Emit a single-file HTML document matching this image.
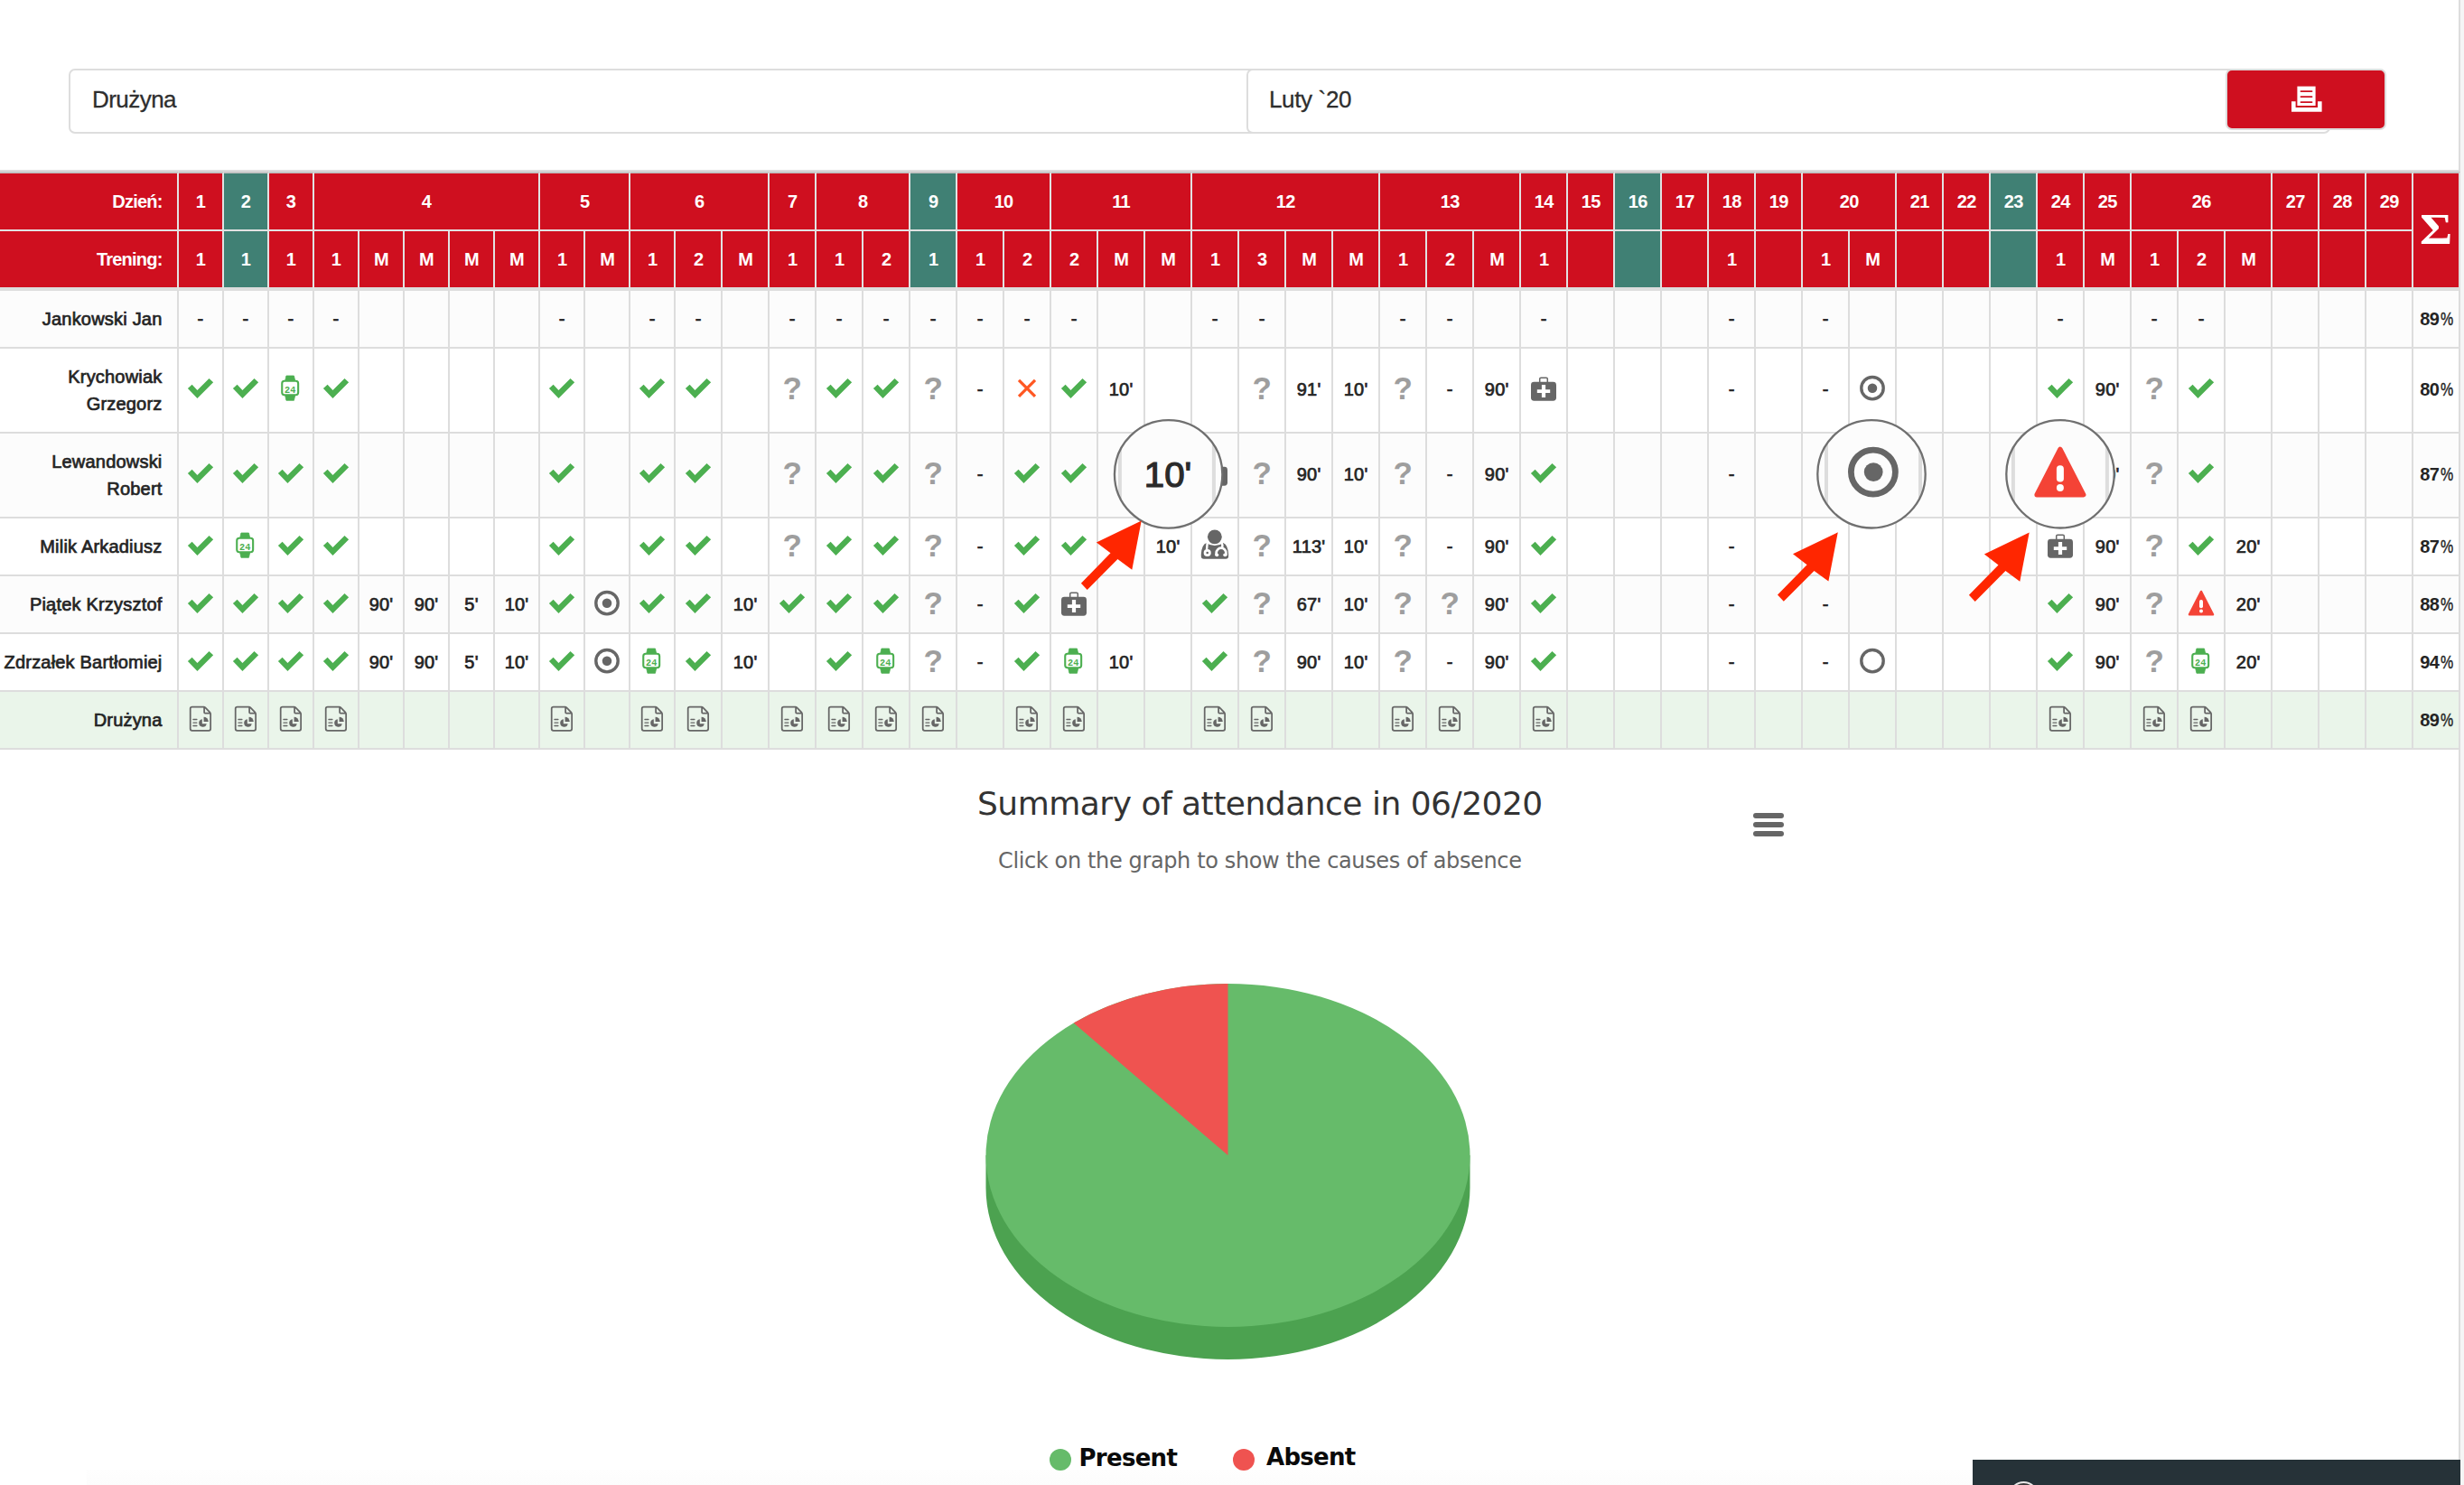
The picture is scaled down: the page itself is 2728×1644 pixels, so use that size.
<!DOCTYPE html>
<html lang="pl"><head><meta charset="utf-8"><title>Obecność – Drużyna – Luty `20</title>
<style>

html,body{margin:0;padding:0;background:#fff;}
body{position:relative;width:2728px;height:1644px;overflow:hidden;font-family:"Liberation Sans",sans-serif;color:#212121;}
.page{position:absolute;left:0;top:0;width:2722px;height:1644px;border-right:2px solid #ddd;background:#fff;}
.gutter{position:absolute;left:2724px;top:0;width:4px;height:1644px;background:#f5f5f5;}
/* filters */
.filters{position:absolute;left:76px;top:76px;height:72px;width:2580px;}
.sel{position:absolute;top:0;height:72px;box-sizing:border-box;border:2px solid #ddd;border-radius:7px;background:#fff;
  font-size:26px;line-height:65px;color:#2e2e2e;letter-spacing:-0.55px;white-space:nowrap;-webkit-text-stroke:0.3px #2e2e2e;}
.sel.team{left:0;width:1320px;padding-left:24px;}
.sel.month{left:1304px;width:1200px;padding-left:23px;letter-spacing:-0.35px;}
.btn{position:absolute;left:2388px;top:0;width:178px;height:68px;box-sizing:border-box;border:2px solid #ddd;border-radius:7px;background:#cf0f1f;}
.btn svg{position:absolute;left:71px;top:17px;}
/* table */
table.att{position:absolute;left:0;top:188px;width:2724px;table-layout:fixed;border-collapse:separate;border-spacing:0;
  border-top:2px solid #dcdcdc;font-size:20px;font-weight:normal;line-height:30px;letter-spacing:0.2px;}
.att th,.att td{box-sizing:border-box;padding:0;margin:0;text-align:center;vertical-align:middle;border-right:2px solid #ddd;border-bottom:2px solid #ddd;overflow:hidden;white-space:nowrap;}
.att thead th{background:#cf0f1f;color:#fff;border-color:#e2e2e2;height:64px;font-weight:bold;letter-spacing:-0.8px;}
.att thead tr.r1 th{border-top:2px solid #c4c4c4;height:66px;}
.att thead tr.r2 th{height:66px;border-bottom:4px solid #ddd;}
.att thead th.t{background:#408074;}
.att thead th.lab,.att tbody th{text-align:right;padding-right:16.5px;}
.att thead th.sum{font-family:"Liberation Serif",serif;font-size:49px;font-weight:bold;letter-spacing:0;border-bottom:4px solid #ddd;border-right-color:#ddd;padding-bottom:3px}
.att thead th.sum span{display:inline-block;transform:scaleX(1.13);}
.att tbody td,.att tbody th{height:64px;background:#fff;font-weight:normal;color:#242424;-webkit-text-stroke:0.7px #242424;}
.att tbody tr.tall td,.att tbody tr.tall th{height:94px;}
.att tbody tr.tall td{padding-bottom:2px;}
.att tbody tr.odd td,.att tbody tr.odd th{background:#fcfcfc;}
.att tbody tr.team td,.att tbody tr.team th{background:#eaf5ea;}
.att tbody td.pc{letter-spacing:-0.6px;font-weight:bold;-webkit-text-stroke:0;}
.att td.pc i{font-style:normal;font-weight:normal;display:inline-block;transform:scaleX(0.8);transform-origin:0 50%;margin:0 -3.6px 0 1.2px;-webkit-text-stroke:0.4px #212121;}
.att .ic{display:block;margin:0 auto;}
.att .q{display:block;font-size:35px;line-height:40px;font-weight:bold;color:#9e9e9e;letter-spacing:0;position:relative;top:-1.3px;-webkit-text-stroke:0;}
/* chart */
.chart{position:absolute;left:0;top:830px;width:2722px;height:814px;font-family:"DejaVu Sans","Liberation Sans",sans-serif;}
.chart h2{position:absolute;left:0;width:2722px;top:866px;margin:0;}
.ttl{position:absolute;left:1082px;top:39px;margin:0;font-size:36px;font-weight:normal;line-height:42px;color:#333;letter-spacing:-0.5px;white-space:nowrap;}
.sub{position:absolute;left:1105px;top:109px;margin:0;font-size:24px;line-height:28px;color:#666;letter-spacing:-0.37px;white-space:nowrap;}
.menu{position:absolute;left:1936px;top:66px;}
.pie{position:absolute;left:1060px;top:240px;}
.leg{position:absolute;top:768px;font-size:26px;line-height:32px;font-weight:bold;color:#0a0a0a;letter-spacing:-0.7px;white-space:nowrap;}
.leg b{position:absolute;left:-34px;top:6px;width:24px;height:24px;border-radius:50%;}
.toast{position:absolute;left:2184px;top:1616px;width:540px;height:28px;background:#263238;overflow:hidden;}
.toast b{position:absolute;left:40px;top:24px;width:29px;height:29px;border-radius:50%;border:2px solid #e8e8e8;background:#3a3a3a;}
.overlay{position:absolute;left:0;top:0;pointer-events:none;}
.foot{position:absolute;left:96px;top:1627px;width:2088px;height:17px;background:linear-gradient(#fefefe,#fcfcfc);}

</style></head><body>
<div class="page">
<div class="filters">
<div class="sel team">Drużyna</div>
<div class="sel month">Luty `20</div>
<div class="btn"><svg width="34" height="30" viewBox="0 0 34 30"><path d="M6.4,0.6 H26.6 V22 H6.4 Z" fill="#fff"/><path d="M10.5,6.1 H22.5 M10.5,12.1 H22.5 M10.5,18.1 H22.5" stroke="#cf0f1f" stroke-width="1.9" stroke-linecap="round"/><path d="M2.3,17.2 V26.4 H31.3 V17.2" fill="none" stroke="#fff" stroke-width="4.6"/></svg></div>
</div>
<table class="att">
<colgroup><col style="width:198px"><col style="width:50px"><col style="width:50px"><col style="width:50px"><col style="width:50px"><col style="width:50px"><col style="width:50px"><col style="width:50px"><col style="width:50px"><col style="width:50px"><col style="width:50px"><col style="width:50px"><col style="width:52px"><col style="width:52px"><col style="width:52px"><col style="width:52px"><col style="width:52px"><col style="width:52px"><col style="width:52px"><col style="width:52px"><col style="width:52px"><col style="width:52px"><col style="width:52px"><col style="width:52px"><col style="width:52px"><col style="width:52px"><col style="width:52px"><col style="width:52px"><col style="width:52px"><col style="width:52px"><col style="width:52px"><col style="width:52px"><col style="width:52px"><col style="width:52px"><col style="width:52px"><col style="width:52px"><col style="width:52px"><col style="width:52px"><col style="width:52px"><col style="width:52px"><col style="width:52px"><col style="width:52px"><col style="width:52px"><col style="width:52px"><col style="width:52px"><col style="width:52px"><col style="width:52px"><col style="width:52px"><col style="width:52px"><col style="width:52px"></colgroup>
<thead>
<tr class="r1"><th class="lab">Dzień:</th>
<th>1</th>
<th class="t">2</th>
<th>3</th>
<th colspan="5">4</th>
<th colspan="2">5</th>
<th colspan="3">6</th>
<th>7</th>
<th colspan="2">8</th>
<th class="t">9</th>
<th colspan="2">10</th>
<th colspan="3">11</th>
<th colspan="4">12</th>
<th colspan="3">13</th>
<th>14</th>
<th>15</th>
<th class="t">16</th>
<th>17</th>
<th>18</th>
<th>19</th>
<th colspan="2">20</th>
<th>21</th>
<th>22</th>
<th class="t">23</th>
<th>24</th>
<th>25</th>
<th colspan="3">26</th>
<th>27</th>
<th>28</th>
<th>29</th>
<th class="sum" rowspan="2"><span>Σ</span></th></tr>
<tr class="r2"><th class="lab">Trening:</th>
<th>1</th>
<th class="t">1</th>
<th>1</th>
<th>1</th>
<th>M</th>
<th>M</th>
<th>M</th>
<th>M</th>
<th>1</th>
<th>M</th>
<th>1</th>
<th>2</th>
<th>M</th>
<th>1</th>
<th>1</th>
<th>2</th>
<th class="t">1</th>
<th>1</th>
<th>2</th>
<th>2</th>
<th>M</th>
<th>M</th>
<th>1</th>
<th>3</th>
<th>M</th>
<th>M</th>
<th>1</th>
<th>2</th>
<th>M</th>
<th>1</th>
<th></th>
<th class="t"></th>
<th></th>
<th>1</th>
<th></th>
<th>1</th>
<th>M</th>
<th></th>
<th></th>
<th class="t"></th>
<th>1</th>
<th>M</th>
<th>1</th>
<th>2</th>
<th>M</th>
<th></th>
<th></th>
<th></th>
</tr></thead><tbody>
<tr class="odd"><th>Jankowski Jan</th>
<td>-</td>
<td>-</td>
<td>-</td>
<td>-</td>
<td></td>
<td></td>
<td></td>
<td></td>
<td>-</td>
<td></td>
<td>-</td>
<td>-</td>
<td></td>
<td>-</td>
<td>-</td>
<td>-</td>
<td>-</td>
<td>-</td>
<td>-</td>
<td>-</td>
<td></td>
<td></td>
<td>-</td>
<td>-</td>
<td></td>
<td></td>
<td>-</td>
<td>-</td>
<td></td>
<td>-</td>
<td></td>
<td></td>
<td></td>
<td>-</td>
<td></td>
<td>-</td>
<td></td>
<td></td>
<td></td>
<td></td>
<td>-</td>
<td></td>
<td>-</td>
<td>-</td>
<td></td>
<td></td>
<td></td>
<td></td>
<td class="pc">89<i>%</i></td></tr>
<tr class="tall"><th>Krychowiak<br>Grzegorz</th>
<td><svg class="ic" width="40" height="40" viewBox="-20.0 -20.0 40 40"><polygon fill="#4caf50" points="-14.1,-0.9 -9.4,-5.2 -3.55,0.9 9.5,-12.1 14.15,-7.8 -3.55,9.9"/></svg></td>
<td><svg class="ic" width="40" height="40" viewBox="-20.0 -20.0 40 40"><polygon fill="#4caf50" points="-14.1,-0.9 -9.4,-5.2 -3.55,0.9 9.5,-12.1 14.15,-7.8 -3.55,9.9"/></svg></td>
<td><svg class="ic" width="40" height="40" viewBox="-20.0 -20.0 40 40"><g transform="translate(0,0.9)"><path d="M-5.05,-15.9 H3.45 L4.7,-10.4 H-6.3 Z M-6.3,5.9 H4.7 L3.45,11.4 H-5.05 Z" fill="#4caf50" stroke="#4caf50" stroke-width="0.8" stroke-linejoin="round"/><rect x="-9.75" y="-10.1" width="17.9" height="15.4" rx="2.6" fill="#fff" stroke="#4caf50" stroke-width="2.1"/><text x="-0.8" y="2.9" text-anchor="middle" font-family="Liberation Mono, monospace" font-weight="bold" font-size="11.5" textLength="12.6" lengthAdjust="spacingAndGlyphs" fill="#4caf50">24</text></g></svg></td>
<td><svg class="ic" width="40" height="40" viewBox="-20.0 -20.0 40 40"><polygon fill="#4caf50" points="-14.1,-0.9 -9.4,-5.2 -3.55,0.9 9.5,-12.1 14.15,-7.8 -3.55,9.9"/></svg></td>
<td></td>
<td></td>
<td></td>
<td></td>
<td><svg class="ic" width="40" height="40" viewBox="-20.0 -20.0 40 40"><polygon fill="#4caf50" points="-14.1,-0.9 -9.4,-5.2 -3.55,0.9 9.5,-12.1 14.15,-7.8 -3.55,9.9"/></svg></td>
<td></td>
<td><svg class="ic" width="40" height="40" viewBox="-20.0 -20.0 40 40"><polygon fill="#4caf50" points="-14.1,-0.9 -9.4,-5.2 -3.55,0.9 9.5,-12.1 14.15,-7.8 -3.55,9.9"/></svg></td>
<td><svg class="ic" width="40" height="40" viewBox="-20.0 -20.0 40 40"><polygon fill="#4caf50" points="-14.1,-0.9 -9.4,-5.2 -3.55,0.9 9.5,-12.1 14.15,-7.8 -3.55,9.9"/></svg></td>
<td></td>
<td><span class="q">?</span></td>
<td><svg class="ic" width="40" height="40" viewBox="-20.0 -20.0 40 40"><polygon fill="#4caf50" points="-14.1,-0.9 -9.4,-5.2 -3.55,0.9 9.5,-12.1 14.15,-7.8 -3.55,9.9"/></svg></td>
<td><svg class="ic" width="40" height="40" viewBox="-20.0 -20.0 40 40"><polygon fill="#4caf50" points="-14.1,-0.9 -9.4,-5.2 -3.55,0.9 9.5,-12.1 14.15,-7.8 -3.55,9.9"/></svg></td>
<td><span class="q">?</span></td>
<td>-</td>
<td><svg class="ic" width="40" height="40" viewBox="-20.0 -20.0 40 40"><path d="M-9,-10.2 L9,7.8 M9,-10.2 L-9,7.8" stroke="#ff5722" stroke-width="3.2" fill="none"/></svg></td>
<td><svg class="ic" width="40" height="40" viewBox="-20.0 -20.0 40 40"><polygon fill="#4caf50" points="-14.1,-0.9 -9.4,-5.2 -3.55,0.9 9.5,-12.1 14.15,-7.8 -3.55,9.9"/></svg></td>
<td>10'</td>
<td></td>
<td></td>
<td><span class="q">?</span></td>
<td>91'</td>
<td>10'</td>
<td><span class="q">?</span></td>
<td>-</td>
<td>90'</td>
<td><svg class="ic" width="40" height="40" viewBox="-20.0 -20.0 40 40"><g transform="translate(0,0.9)"><rect x="-14" y="-9.1" width="28" height="20.9" rx="3.4" fill="#666"/><path d="M-4.3,-9 V-12.4 Q-4.3,-13.7 -3,-13.7 H3 Q4.3,-13.7 4.3,-12.4 V-9" fill="none" stroke="#666" stroke-width="1.5"/><path d="M-2.1,-6 H2.1 V-0.75 H7.2 V3 H2.1 V8.2 H-2.1 V3 H-7.2 V-0.75 H-2.1 Z" fill="#fff"/></g></svg></td>
<td></td>
<td></td>
<td></td>
<td>-</td>
<td></td>
<td>-</td>
<td><svg class="ic" width="40" height="40" viewBox="-20.0 -20.0 40 40"><circle cx="0" cy="-1.3" r="12.2" fill="none" stroke="#666" stroke-width="3.4"/><circle cx="0" cy="-1.3" r="5.25" fill="#666"/></svg></td>
<td></td>
<td></td>
<td></td>
<td><svg class="ic" width="40" height="40" viewBox="-20.0 -20.0 40 40"><polygon fill="#4caf50" points="-14.1,-0.9 -9.4,-5.2 -3.55,0.9 9.5,-12.1 14.15,-7.8 -3.55,9.9"/></svg></td>
<td>90'</td>
<td><span class="q">?</span></td>
<td><svg class="ic" width="40" height="40" viewBox="-20.0 -20.0 40 40"><polygon fill="#4caf50" points="-14.1,-0.9 -9.4,-5.2 -3.55,0.9 9.5,-12.1 14.15,-7.8 -3.55,9.9"/></svg></td>
<td></td>
<td></td>
<td></td>
<td></td>
<td class="pc">80<i>%</i></td></tr>
<tr class="tall odd"><th>Lewandowski<br>Robert</th>
<td><svg class="ic" width="40" height="40" viewBox="-20.0 -20.0 40 40"><polygon fill="#4caf50" points="-14.1,-0.9 -9.4,-5.2 -3.55,0.9 9.5,-12.1 14.15,-7.8 -3.55,9.9"/></svg></td>
<td><svg class="ic" width="40" height="40" viewBox="-20.0 -20.0 40 40"><polygon fill="#4caf50" points="-14.1,-0.9 -9.4,-5.2 -3.55,0.9 9.5,-12.1 14.15,-7.8 -3.55,9.9"/></svg></td>
<td><svg class="ic" width="40" height="40" viewBox="-20.0 -20.0 40 40"><polygon fill="#4caf50" points="-14.1,-0.9 -9.4,-5.2 -3.55,0.9 9.5,-12.1 14.15,-7.8 -3.55,9.9"/></svg></td>
<td><svg class="ic" width="40" height="40" viewBox="-20.0 -20.0 40 40"><polygon fill="#4caf50" points="-14.1,-0.9 -9.4,-5.2 -3.55,0.9 9.5,-12.1 14.15,-7.8 -3.55,9.9"/></svg></td>
<td></td>
<td></td>
<td></td>
<td></td>
<td><svg class="ic" width="40" height="40" viewBox="-20.0 -20.0 40 40"><polygon fill="#4caf50" points="-14.1,-0.9 -9.4,-5.2 -3.55,0.9 9.5,-12.1 14.15,-7.8 -3.55,9.9"/></svg></td>
<td></td>
<td><svg class="ic" width="40" height="40" viewBox="-20.0 -20.0 40 40"><polygon fill="#4caf50" points="-14.1,-0.9 -9.4,-5.2 -3.55,0.9 9.5,-12.1 14.15,-7.8 -3.55,9.9"/></svg></td>
<td><svg class="ic" width="40" height="40" viewBox="-20.0 -20.0 40 40"><polygon fill="#4caf50" points="-14.1,-0.9 -9.4,-5.2 -3.55,0.9 9.5,-12.1 14.15,-7.8 -3.55,9.9"/></svg></td>
<td></td>
<td><span class="q">?</span></td>
<td><svg class="ic" width="40" height="40" viewBox="-20.0 -20.0 40 40"><polygon fill="#4caf50" points="-14.1,-0.9 -9.4,-5.2 -3.55,0.9 9.5,-12.1 14.15,-7.8 -3.55,9.9"/></svg></td>
<td><svg class="ic" width="40" height="40" viewBox="-20.0 -20.0 40 40"><polygon fill="#4caf50" points="-14.1,-0.9 -9.4,-5.2 -3.55,0.9 9.5,-12.1 14.15,-7.8 -3.55,9.9"/></svg></td>
<td><span class="q">?</span></td>
<td>-</td>
<td><svg class="ic" width="40" height="40" viewBox="-20.0 -20.0 40 40"><polygon fill="#4caf50" points="-14.1,-0.9 -9.4,-5.2 -3.55,0.9 9.5,-12.1 14.15,-7.8 -3.55,9.9"/></svg></td>
<td><svg class="ic" width="40" height="40" viewBox="-20.0 -20.0 40 40"><polygon fill="#4caf50" points="-14.1,-0.9 -9.4,-5.2 -3.55,0.9 9.5,-12.1 14.15,-7.8 -3.55,9.9"/></svg></td>
<td></td>
<td>10'</td>
<td><svg class="ic" width="40" height="40" viewBox="-20.0 -20.0 40 40"><g transform="translate(0,0.9)"><rect x="-14" y="-9.1" width="28" height="20.9" rx="3.4" fill="#666"/><path d="M-4.3,-9 V-12.4 Q-4.3,-13.7 -3,-13.7 H3 Q4.3,-13.7 4.3,-12.4 V-9" fill="none" stroke="#666" stroke-width="1.5"/><path d="M-2.1,-6 H2.1 V-0.75 H7.2 V3 H2.1 V8.2 H-2.1 V3 H-7.2 V-0.75 H-2.1 Z" fill="#fff"/></g></svg></td>
<td><span class="q">?</span></td>
<td>90'</td>
<td>10'</td>
<td><span class="q">?</span></td>
<td>-</td>
<td>90'</td>
<td><svg class="ic" width="40" height="40" viewBox="-20.0 -20.0 40 40"><polygon fill="#4caf50" points="-14.1,-0.9 -9.4,-5.2 -3.55,0.9 9.5,-12.1 14.15,-7.8 -3.55,9.9"/></svg></td>
<td></td>
<td></td>
<td></td>
<td>-</td>
<td></td>
<td>-</td>
<td><svg class="ic" width="40" height="40" viewBox="-20.0 -20.0 40 40"><circle cx="0" cy="-1.3" r="12.2" fill="none" stroke="#666" stroke-width="3.4"/><circle cx="0" cy="-1.3" r="5.25" fill="#666"/></svg></td>
<td></td>
<td></td>
<td></td>
<td><svg class="ic" width="40" height="40" viewBox="-20.0 -20.0 40 40"><path d="M0,-14 L12.95,11.3 L-12.95,11.3 Z" fill="#f44336" stroke="#f44336" stroke-width="2.6" stroke-linejoin="round"/><rect x="-2" y="-5" width="4" height="9.2" rx="1.9" fill="#fff"/><circle cx="0" cy="7.4" r="2" fill="#fff"/></svg></td>
<td>90'</td>
<td><span class="q">?</span></td>
<td><svg class="ic" width="40" height="40" viewBox="-20.0 -20.0 40 40"><polygon fill="#4caf50" points="-14.1,-0.9 -9.4,-5.2 -3.55,0.9 9.5,-12.1 14.15,-7.8 -3.55,9.9"/></svg></td>
<td></td>
<td></td>
<td></td>
<td></td>
<td class="pc">87<i>%</i></td></tr>
<tr class=""><th>Milik Arkadiusz</th>
<td><svg class="ic" width="40" height="40" viewBox="-20.0 -20.0 40 40"><polygon fill="#4caf50" points="-14.1,-0.9 -9.4,-5.2 -3.55,0.9 9.5,-12.1 14.15,-7.8 -3.55,9.9"/></svg></td>
<td><svg class="ic" width="40" height="40" viewBox="-20.0 -20.0 40 40"><g transform="translate(0,0.9)"><path d="M-5.05,-15.9 H3.45 L4.7,-10.4 H-6.3 Z M-6.3,5.9 H4.7 L3.45,11.4 H-5.05 Z" fill="#4caf50" stroke="#4caf50" stroke-width="0.8" stroke-linejoin="round"/><rect x="-9.75" y="-10.1" width="17.9" height="15.4" rx="2.6" fill="#fff" stroke="#4caf50" stroke-width="2.1"/><text x="-0.8" y="2.9" text-anchor="middle" font-family="Liberation Mono, monospace" font-weight="bold" font-size="11.5" textLength="12.6" lengthAdjust="spacingAndGlyphs" fill="#4caf50">24</text></g></svg></td>
<td><svg class="ic" width="40" height="40" viewBox="-20.0 -20.0 40 40"><polygon fill="#4caf50" points="-14.1,-0.9 -9.4,-5.2 -3.55,0.9 9.5,-12.1 14.15,-7.8 -3.55,9.9"/></svg></td>
<td><svg class="ic" width="40" height="40" viewBox="-20.0 -20.0 40 40"><polygon fill="#4caf50" points="-14.1,-0.9 -9.4,-5.2 -3.55,0.9 9.5,-12.1 14.15,-7.8 -3.55,9.9"/></svg></td>
<td></td>
<td></td>
<td></td>
<td></td>
<td><svg class="ic" width="40" height="40" viewBox="-20.0 -20.0 40 40"><polygon fill="#4caf50" points="-14.1,-0.9 -9.4,-5.2 -3.55,0.9 9.5,-12.1 14.15,-7.8 -3.55,9.9"/></svg></td>
<td></td>
<td><svg class="ic" width="40" height="40" viewBox="-20.0 -20.0 40 40"><polygon fill="#4caf50" points="-14.1,-0.9 -9.4,-5.2 -3.55,0.9 9.5,-12.1 14.15,-7.8 -3.55,9.9"/></svg></td>
<td><svg class="ic" width="40" height="40" viewBox="-20.0 -20.0 40 40"><polygon fill="#4caf50" points="-14.1,-0.9 -9.4,-5.2 -3.55,0.9 9.5,-12.1 14.15,-7.8 -3.55,9.9"/></svg></td>
<td></td>
<td><span class="q">?</span></td>
<td><svg class="ic" width="40" height="40" viewBox="-20.0 -20.0 40 40"><polygon fill="#4caf50" points="-14.1,-0.9 -9.4,-5.2 -3.55,0.9 9.5,-12.1 14.15,-7.8 -3.55,9.9"/></svg></td>
<td><svg class="ic" width="40" height="40" viewBox="-20.0 -20.0 40 40"><polygon fill="#4caf50" points="-14.1,-0.9 -9.4,-5.2 -3.55,0.9 9.5,-12.1 14.15,-7.8 -3.55,9.9"/></svg></td>
<td><span class="q">?</span></td>
<td>-</td>
<td><svg class="ic" width="40" height="40" viewBox="-20.0 -20.0 40 40"><polygon fill="#4caf50" points="-14.1,-0.9 -9.4,-5.2 -3.55,0.9 9.5,-12.1 14.15,-7.8 -3.55,9.9"/></svg></td>
<td><svg class="ic" width="40" height="40" viewBox="-20.0 -20.0 40 40"><polygon fill="#4caf50" points="-14.1,-0.9 -9.4,-5.2 -3.55,0.9 9.5,-12.1 14.15,-7.8 -3.55,9.9"/></svg></td>
<td></td>
<td>10'</td>
<td><svg class="ic" width="40" height="40" viewBox="-20.0 -20.0 40 40"><circle cx="-0.15" cy="-10.7" r="7.9" fill="#666"/><path d="M-9.3,-4.1 Q-14.6,-2 -15.2,8.5 V10.8 Q-15.2,13.8 -12.2,13.8 H12.1 Q15.1,13.8 15.1,10.8 V8.5 Q14.5,-2 9.2,-4.1 A15,15 0 0 1 -9.3,-4.1 Z" fill="#666"/><path d="M-8.3,-4.4 L-9,3.6" stroke="#fff" stroke-width="2.4" fill="none"/><circle cx="-8.3" cy="7" r="4.05" fill="#fff"/><circle cx="-8.3" cy="7" r="1.3" fill="#666"/><path d="M7.7,-4.2 L8.4,-1.4 Q8.7,0.2 7.2,0.6" stroke="#fff" stroke-width="2.4" fill="none"/><path d="M1.6,9.2 V7.3 A5.4,5.6 0 0 1 12.4,7.3 V9.2" stroke="#fff" stroke-width="2.7" fill="none" stroke-linecap="round"/><circle cx="2.3" cy="9.3" r="1.9" fill="#fff"/><circle cx="11.2" cy="9.3" r="1.9" fill="#fff"/></svg></td>
<td><span class="q">?</span></td>
<td>113'</td>
<td>10'</td>
<td><span class="q">?</span></td>
<td>-</td>
<td>90'</td>
<td><svg class="ic" width="40" height="40" viewBox="-20.0 -20.0 40 40"><polygon fill="#4caf50" points="-14.1,-0.9 -9.4,-5.2 -3.55,0.9 9.5,-12.1 14.15,-7.8 -3.55,9.9"/></svg></td>
<td></td>
<td></td>
<td></td>
<td>-</td>
<td></td>
<td></td>
<td></td>
<td></td>
<td></td>
<td></td>
<td><svg class="ic" width="40" height="40" viewBox="-20.0 -20.0 40 40"><g transform="translate(0,0.9)"><rect x="-14" y="-9.1" width="28" height="20.9" rx="3.4" fill="#666"/><path d="M-4.3,-9 V-12.4 Q-4.3,-13.7 -3,-13.7 H3 Q4.3,-13.7 4.3,-12.4 V-9" fill="none" stroke="#666" stroke-width="1.5"/><path d="M-2.1,-6 H2.1 V-0.75 H7.2 V3 H2.1 V8.2 H-2.1 V3 H-7.2 V-0.75 H-2.1 Z" fill="#fff"/></g></svg></td>
<td>90'</td>
<td><span class="q">?</span></td>
<td><svg class="ic" width="40" height="40" viewBox="-20.0 -20.0 40 40"><polygon fill="#4caf50" points="-14.1,-0.9 -9.4,-5.2 -3.55,0.9 9.5,-12.1 14.15,-7.8 -3.55,9.9"/></svg></td>
<td>20'</td>
<td></td>
<td></td>
<td></td>
<td class="pc">87<i>%</i></td></tr>
<tr class="odd"><th>Piątek Krzysztof</th>
<td><svg class="ic" width="40" height="40" viewBox="-20.0 -20.0 40 40"><polygon fill="#4caf50" points="-14.1,-0.9 -9.4,-5.2 -3.55,0.9 9.5,-12.1 14.15,-7.8 -3.55,9.9"/></svg></td>
<td><svg class="ic" width="40" height="40" viewBox="-20.0 -20.0 40 40"><polygon fill="#4caf50" points="-14.1,-0.9 -9.4,-5.2 -3.55,0.9 9.5,-12.1 14.15,-7.8 -3.55,9.9"/></svg></td>
<td><svg class="ic" width="40" height="40" viewBox="-20.0 -20.0 40 40"><polygon fill="#4caf50" points="-14.1,-0.9 -9.4,-5.2 -3.55,0.9 9.5,-12.1 14.15,-7.8 -3.55,9.9"/></svg></td>
<td><svg class="ic" width="40" height="40" viewBox="-20.0 -20.0 40 40"><polygon fill="#4caf50" points="-14.1,-0.9 -9.4,-5.2 -3.55,0.9 9.5,-12.1 14.15,-7.8 -3.55,9.9"/></svg></td>
<td>90'</td>
<td>90'</td>
<td>5'</td>
<td>10'</td>
<td><svg class="ic" width="40" height="40" viewBox="-20.0 -20.0 40 40"><polygon fill="#4caf50" points="-14.1,-0.9 -9.4,-5.2 -3.55,0.9 9.5,-12.1 14.15,-7.8 -3.55,9.9"/></svg></td>
<td><svg class="ic" width="40" height="40" viewBox="-20.0 -20.0 40 40"><circle cx="0" cy="-1.3" r="12.2" fill="none" stroke="#666" stroke-width="3.4"/><circle cx="0" cy="-1.3" r="5.25" fill="#666"/></svg></td>
<td><svg class="ic" width="40" height="40" viewBox="-20.0 -20.0 40 40"><polygon fill="#4caf50" points="-14.1,-0.9 -9.4,-5.2 -3.55,0.9 9.5,-12.1 14.15,-7.8 -3.55,9.9"/></svg></td>
<td><svg class="ic" width="40" height="40" viewBox="-20.0 -20.0 40 40"><polygon fill="#4caf50" points="-14.1,-0.9 -9.4,-5.2 -3.55,0.9 9.5,-12.1 14.15,-7.8 -3.55,9.9"/></svg></td>
<td>10'</td>
<td><svg class="ic" width="40" height="40" viewBox="-20.0 -20.0 40 40"><polygon fill="#4caf50" points="-14.1,-0.9 -9.4,-5.2 -3.55,0.9 9.5,-12.1 14.15,-7.8 -3.55,9.9"/></svg></td>
<td><svg class="ic" width="40" height="40" viewBox="-20.0 -20.0 40 40"><polygon fill="#4caf50" points="-14.1,-0.9 -9.4,-5.2 -3.55,0.9 9.5,-12.1 14.15,-7.8 -3.55,9.9"/></svg></td>
<td><svg class="ic" width="40" height="40" viewBox="-20.0 -20.0 40 40"><polygon fill="#4caf50" points="-14.1,-0.9 -9.4,-5.2 -3.55,0.9 9.5,-12.1 14.15,-7.8 -3.55,9.9"/></svg></td>
<td><span class="q">?</span></td>
<td>-</td>
<td><svg class="ic" width="40" height="40" viewBox="-20.0 -20.0 40 40"><polygon fill="#4caf50" points="-14.1,-0.9 -9.4,-5.2 -3.55,0.9 9.5,-12.1 14.15,-7.8 -3.55,9.9"/></svg></td>
<td><svg class="ic" width="40" height="40" viewBox="-20.0 -20.0 40 40"><g transform="translate(0,0.9)"><rect x="-14" y="-9.1" width="28" height="20.9" rx="3.4" fill="#666"/><path d="M-4.3,-9 V-12.4 Q-4.3,-13.7 -3,-13.7 H3 Q4.3,-13.7 4.3,-12.4 V-9" fill="none" stroke="#666" stroke-width="1.5"/><path d="M-2.1,-6 H2.1 V-0.75 H7.2 V3 H2.1 V8.2 H-2.1 V3 H-7.2 V-0.75 H-2.1 Z" fill="#fff"/></g></svg></td>
<td></td>
<td></td>
<td><svg class="ic" width="40" height="40" viewBox="-20.0 -20.0 40 40"><polygon fill="#4caf50" points="-14.1,-0.9 -9.4,-5.2 -3.55,0.9 9.5,-12.1 14.15,-7.8 -3.55,9.9"/></svg></td>
<td><span class="q">?</span></td>
<td>67'</td>
<td>10'</td>
<td><span class="q">?</span></td>
<td><span class="q">?</span></td>
<td>90'</td>
<td><svg class="ic" width="40" height="40" viewBox="-20.0 -20.0 40 40"><polygon fill="#4caf50" points="-14.1,-0.9 -9.4,-5.2 -3.55,0.9 9.5,-12.1 14.15,-7.8 -3.55,9.9"/></svg></td>
<td></td>
<td></td>
<td></td>
<td>-</td>
<td></td>
<td>-</td>
<td></td>
<td></td>
<td></td>
<td></td>
<td><svg class="ic" width="40" height="40" viewBox="-20.0 -20.0 40 40"><polygon fill="#4caf50" points="-14.1,-0.9 -9.4,-5.2 -3.55,0.9 9.5,-12.1 14.15,-7.8 -3.55,9.9"/></svg></td>
<td>90'</td>
<td><span class="q">?</span></td>
<td><svg class="ic" width="40" height="40" viewBox="-20.0 -20.0 40 40"><path d="M0,-14 L12.95,11.3 L-12.95,11.3 Z" fill="#f44336" stroke="#f44336" stroke-width="2.6" stroke-linejoin="round"/><rect x="-2" y="-5" width="4" height="9.2" rx="1.9" fill="#fff"/><circle cx="0" cy="7.4" r="2" fill="#fff"/></svg></td>
<td>20'</td>
<td></td>
<td></td>
<td></td>
<td class="pc">88<i>%</i></td></tr>
<tr class=""><th>Zdrzałek Bartłomiej</th>
<td><svg class="ic" width="40" height="40" viewBox="-20.0 -20.0 40 40"><polygon fill="#4caf50" points="-14.1,-0.9 -9.4,-5.2 -3.55,0.9 9.5,-12.1 14.15,-7.8 -3.55,9.9"/></svg></td>
<td><svg class="ic" width="40" height="40" viewBox="-20.0 -20.0 40 40"><polygon fill="#4caf50" points="-14.1,-0.9 -9.4,-5.2 -3.55,0.9 9.5,-12.1 14.15,-7.8 -3.55,9.9"/></svg></td>
<td><svg class="ic" width="40" height="40" viewBox="-20.0 -20.0 40 40"><polygon fill="#4caf50" points="-14.1,-0.9 -9.4,-5.2 -3.55,0.9 9.5,-12.1 14.15,-7.8 -3.55,9.9"/></svg></td>
<td><svg class="ic" width="40" height="40" viewBox="-20.0 -20.0 40 40"><polygon fill="#4caf50" points="-14.1,-0.9 -9.4,-5.2 -3.55,0.9 9.5,-12.1 14.15,-7.8 -3.55,9.9"/></svg></td>
<td>90'</td>
<td>90'</td>
<td>5'</td>
<td>10'</td>
<td><svg class="ic" width="40" height="40" viewBox="-20.0 -20.0 40 40"><polygon fill="#4caf50" points="-14.1,-0.9 -9.4,-5.2 -3.55,0.9 9.5,-12.1 14.15,-7.8 -3.55,9.9"/></svg></td>
<td><svg class="ic" width="40" height="40" viewBox="-20.0 -20.0 40 40"><circle cx="0" cy="-1.3" r="12.2" fill="none" stroke="#666" stroke-width="3.4"/><circle cx="0" cy="-1.3" r="5.25" fill="#666"/></svg></td>
<td><svg class="ic" width="40" height="40" viewBox="-20.0 -20.0 40 40"><g transform="translate(0,0.9)"><path d="M-5.05,-15.9 H3.45 L4.7,-10.4 H-6.3 Z M-6.3,5.9 H4.7 L3.45,11.4 H-5.05 Z" fill="#4caf50" stroke="#4caf50" stroke-width="0.8" stroke-linejoin="round"/><rect x="-9.75" y="-10.1" width="17.9" height="15.4" rx="2.6" fill="#fff" stroke="#4caf50" stroke-width="2.1"/><text x="-0.8" y="2.9" text-anchor="middle" font-family="Liberation Mono, monospace" font-weight="bold" font-size="11.5" textLength="12.6" lengthAdjust="spacingAndGlyphs" fill="#4caf50">24</text></g></svg></td>
<td><svg class="ic" width="40" height="40" viewBox="-20.0 -20.0 40 40"><polygon fill="#4caf50" points="-14.1,-0.9 -9.4,-5.2 -3.55,0.9 9.5,-12.1 14.15,-7.8 -3.55,9.9"/></svg></td>
<td>10'</td>
<td></td>
<td><svg class="ic" width="40" height="40" viewBox="-20.0 -20.0 40 40"><polygon fill="#4caf50" points="-14.1,-0.9 -9.4,-5.2 -3.55,0.9 9.5,-12.1 14.15,-7.8 -3.55,9.9"/></svg></td>
<td><svg class="ic" width="40" height="40" viewBox="-20.0 -20.0 40 40"><g transform="translate(0,0.9)"><path d="M-5.05,-15.9 H3.45 L4.7,-10.4 H-6.3 Z M-6.3,5.9 H4.7 L3.45,11.4 H-5.05 Z" fill="#4caf50" stroke="#4caf50" stroke-width="0.8" stroke-linejoin="round"/><rect x="-9.75" y="-10.1" width="17.9" height="15.4" rx="2.6" fill="#fff" stroke="#4caf50" stroke-width="2.1"/><text x="-0.8" y="2.9" text-anchor="middle" font-family="Liberation Mono, monospace" font-weight="bold" font-size="11.5" textLength="12.6" lengthAdjust="spacingAndGlyphs" fill="#4caf50">24</text></g></svg></td>
<td><span class="q">?</span></td>
<td>-</td>
<td><svg class="ic" width="40" height="40" viewBox="-20.0 -20.0 40 40"><polygon fill="#4caf50" points="-14.1,-0.9 -9.4,-5.2 -3.55,0.9 9.5,-12.1 14.15,-7.8 -3.55,9.9"/></svg></td>
<td><svg class="ic" width="40" height="40" viewBox="-20.0 -20.0 40 40"><g transform="translate(0,0.9)"><path d="M-5.05,-15.9 H3.45 L4.7,-10.4 H-6.3 Z M-6.3,5.9 H4.7 L3.45,11.4 H-5.05 Z" fill="#4caf50" stroke="#4caf50" stroke-width="0.8" stroke-linejoin="round"/><rect x="-9.75" y="-10.1" width="17.9" height="15.4" rx="2.6" fill="#fff" stroke="#4caf50" stroke-width="2.1"/><text x="-0.8" y="2.9" text-anchor="middle" font-family="Liberation Mono, monospace" font-weight="bold" font-size="11.5" textLength="12.6" lengthAdjust="spacingAndGlyphs" fill="#4caf50">24</text></g></svg></td>
<td>10'</td>
<td></td>
<td><svg class="ic" width="40" height="40" viewBox="-20.0 -20.0 40 40"><polygon fill="#4caf50" points="-14.1,-0.9 -9.4,-5.2 -3.55,0.9 9.5,-12.1 14.15,-7.8 -3.55,9.9"/></svg></td>
<td><span class="q">?</span></td>
<td>90'</td>
<td>10'</td>
<td><span class="q">?</span></td>
<td>-</td>
<td>90'</td>
<td><svg class="ic" width="40" height="40" viewBox="-20.0 -20.0 40 40"><polygon fill="#4caf50" points="-14.1,-0.9 -9.4,-5.2 -3.55,0.9 9.5,-12.1 14.15,-7.8 -3.55,9.9"/></svg></td>
<td></td>
<td></td>
<td></td>
<td>-</td>
<td></td>
<td>-</td>
<td><svg class="ic" width="40" height="40" viewBox="-20.0 -20.0 40 40"><circle cx="0" cy="-1.3" r="12.2" fill="none" stroke="#666" stroke-width="3.4"/></svg></td>
<td></td>
<td></td>
<td></td>
<td><svg class="ic" width="40" height="40" viewBox="-20.0 -20.0 40 40"><polygon fill="#4caf50" points="-14.1,-0.9 -9.4,-5.2 -3.55,0.9 9.5,-12.1 14.15,-7.8 -3.55,9.9"/></svg></td>
<td>90'</td>
<td><span class="q">?</span></td>
<td><svg class="ic" width="40" height="40" viewBox="-20.0 -20.0 40 40"><g transform="translate(0,0.9)"><path d="M-5.05,-15.9 H3.45 L4.7,-10.4 H-6.3 Z M-6.3,5.9 H4.7 L3.45,11.4 H-5.05 Z" fill="#4caf50" stroke="#4caf50" stroke-width="0.8" stroke-linejoin="round"/><rect x="-9.75" y="-10.1" width="17.9" height="15.4" rx="2.6" fill="#fff" stroke="#4caf50" stroke-width="2.1"/><text x="-0.8" y="2.9" text-anchor="middle" font-family="Liberation Mono, monospace" font-weight="bold" font-size="11.5" textLength="12.6" lengthAdjust="spacingAndGlyphs" fill="#4caf50">24</text></g></svg></td>
<td>20'</td>
<td></td>
<td></td>
<td></td>
<td class="pc">94<i>%</i></td></tr>
<tr class="team"><th>Drużyna</th>
<td><svg class="ic" width="40" height="40" viewBox="-20.0 -20.0 40 40"><path d="M-9.3,-14.45 H3.6 Q4.6,-14.45 5.3,-13.7 L10.4,-8.4 Q11.15,-7.6 11.15,-6.6 V9.8 Q11.15,11.8 9.15,11.8 H-9.3 Q-11.3,11.8 -11.3,9.8 V-12.45 Q-11.3,-14.45 -9.3,-14.45 Z M4.1,-14.2 V-8.5 Q4.1,-7.5 5.1,-7.5 H10.9" fill="none" stroke="#666" stroke-width="1.75" stroke-linejoin="round"/><path d="M-8.05,-0.5 H-4.1 M-8.05,3.05 H-4.1 M-8.05,6.5 H-4.1" stroke="#666" stroke-width="1.35" stroke-linecap="round"/><path d="M1.8,4.2 V-0.84 A4.3,4.3 0 1 0 6.72,4.2 Z" fill="#666"/><path d="M3.55,1.9 V-3.2 A5.2,5.2 0 0 1 8.75,1.9 Z" fill="#666"/></svg></td>
<td><svg class="ic" width="40" height="40" viewBox="-20.0 -20.0 40 40"><path d="M-9.3,-14.45 H3.6 Q4.6,-14.45 5.3,-13.7 L10.4,-8.4 Q11.15,-7.6 11.15,-6.6 V9.8 Q11.15,11.8 9.15,11.8 H-9.3 Q-11.3,11.8 -11.3,9.8 V-12.45 Q-11.3,-14.45 -9.3,-14.45 Z M4.1,-14.2 V-8.5 Q4.1,-7.5 5.1,-7.5 H10.9" fill="none" stroke="#666" stroke-width="1.75" stroke-linejoin="round"/><path d="M-8.05,-0.5 H-4.1 M-8.05,3.05 H-4.1 M-8.05,6.5 H-4.1" stroke="#666" stroke-width="1.35" stroke-linecap="round"/><path d="M1.8,4.2 V-0.84 A4.3,4.3 0 1 0 6.72,4.2 Z" fill="#666"/><path d="M3.55,1.9 V-3.2 A5.2,5.2 0 0 1 8.75,1.9 Z" fill="#666"/></svg></td>
<td><svg class="ic" width="40" height="40" viewBox="-20.0 -20.0 40 40"><path d="M-9.3,-14.45 H3.6 Q4.6,-14.45 5.3,-13.7 L10.4,-8.4 Q11.15,-7.6 11.15,-6.6 V9.8 Q11.15,11.8 9.15,11.8 H-9.3 Q-11.3,11.8 -11.3,9.8 V-12.45 Q-11.3,-14.45 -9.3,-14.45 Z M4.1,-14.2 V-8.5 Q4.1,-7.5 5.1,-7.5 H10.9" fill="none" stroke="#666" stroke-width="1.75" stroke-linejoin="round"/><path d="M-8.05,-0.5 H-4.1 M-8.05,3.05 H-4.1 M-8.05,6.5 H-4.1" stroke="#666" stroke-width="1.35" stroke-linecap="round"/><path d="M1.8,4.2 V-0.84 A4.3,4.3 0 1 0 6.72,4.2 Z" fill="#666"/><path d="M3.55,1.9 V-3.2 A5.2,5.2 0 0 1 8.75,1.9 Z" fill="#666"/></svg></td>
<td><svg class="ic" width="40" height="40" viewBox="-20.0 -20.0 40 40"><path d="M-9.3,-14.45 H3.6 Q4.6,-14.45 5.3,-13.7 L10.4,-8.4 Q11.15,-7.6 11.15,-6.6 V9.8 Q11.15,11.8 9.15,11.8 H-9.3 Q-11.3,11.8 -11.3,9.8 V-12.45 Q-11.3,-14.45 -9.3,-14.45 Z M4.1,-14.2 V-8.5 Q4.1,-7.5 5.1,-7.5 H10.9" fill="none" stroke="#666" stroke-width="1.75" stroke-linejoin="round"/><path d="M-8.05,-0.5 H-4.1 M-8.05,3.05 H-4.1 M-8.05,6.5 H-4.1" stroke="#666" stroke-width="1.35" stroke-linecap="round"/><path d="M1.8,4.2 V-0.84 A4.3,4.3 0 1 0 6.72,4.2 Z" fill="#666"/><path d="M3.55,1.9 V-3.2 A5.2,5.2 0 0 1 8.75,1.9 Z" fill="#666"/></svg></td>
<td></td>
<td></td>
<td></td>
<td></td>
<td><svg class="ic" width="40" height="40" viewBox="-20.0 -20.0 40 40"><path d="M-9.3,-14.45 H3.6 Q4.6,-14.45 5.3,-13.7 L10.4,-8.4 Q11.15,-7.6 11.15,-6.6 V9.8 Q11.15,11.8 9.15,11.8 H-9.3 Q-11.3,11.8 -11.3,9.8 V-12.45 Q-11.3,-14.45 -9.3,-14.45 Z M4.1,-14.2 V-8.5 Q4.1,-7.5 5.1,-7.5 H10.9" fill="none" stroke="#666" stroke-width="1.75" stroke-linejoin="round"/><path d="M-8.05,-0.5 H-4.1 M-8.05,3.05 H-4.1 M-8.05,6.5 H-4.1" stroke="#666" stroke-width="1.35" stroke-linecap="round"/><path d="M1.8,4.2 V-0.84 A4.3,4.3 0 1 0 6.72,4.2 Z" fill="#666"/><path d="M3.55,1.9 V-3.2 A5.2,5.2 0 0 1 8.75,1.9 Z" fill="#666"/></svg></td>
<td></td>
<td><svg class="ic" width="40" height="40" viewBox="-20.0 -20.0 40 40"><path d="M-9.3,-14.45 H3.6 Q4.6,-14.45 5.3,-13.7 L10.4,-8.4 Q11.15,-7.6 11.15,-6.6 V9.8 Q11.15,11.8 9.15,11.8 H-9.3 Q-11.3,11.8 -11.3,9.8 V-12.45 Q-11.3,-14.45 -9.3,-14.45 Z M4.1,-14.2 V-8.5 Q4.1,-7.5 5.1,-7.5 H10.9" fill="none" stroke="#666" stroke-width="1.75" stroke-linejoin="round"/><path d="M-8.05,-0.5 H-4.1 M-8.05,3.05 H-4.1 M-8.05,6.5 H-4.1" stroke="#666" stroke-width="1.35" stroke-linecap="round"/><path d="M1.8,4.2 V-0.84 A4.3,4.3 0 1 0 6.72,4.2 Z" fill="#666"/><path d="M3.55,1.9 V-3.2 A5.2,5.2 0 0 1 8.75,1.9 Z" fill="#666"/></svg></td>
<td><svg class="ic" width="40" height="40" viewBox="-20.0 -20.0 40 40"><path d="M-9.3,-14.45 H3.6 Q4.6,-14.45 5.3,-13.7 L10.4,-8.4 Q11.15,-7.6 11.15,-6.6 V9.8 Q11.15,11.8 9.15,11.8 H-9.3 Q-11.3,11.8 -11.3,9.8 V-12.45 Q-11.3,-14.45 -9.3,-14.45 Z M4.1,-14.2 V-8.5 Q4.1,-7.5 5.1,-7.5 H10.9" fill="none" stroke="#666" stroke-width="1.75" stroke-linejoin="round"/><path d="M-8.05,-0.5 H-4.1 M-8.05,3.05 H-4.1 M-8.05,6.5 H-4.1" stroke="#666" stroke-width="1.35" stroke-linecap="round"/><path d="M1.8,4.2 V-0.84 A4.3,4.3 0 1 0 6.72,4.2 Z" fill="#666"/><path d="M3.55,1.9 V-3.2 A5.2,5.2 0 0 1 8.75,1.9 Z" fill="#666"/></svg></td>
<td></td>
<td><svg class="ic" width="40" height="40" viewBox="-20.0 -20.0 40 40"><path d="M-9.3,-14.45 H3.6 Q4.6,-14.45 5.3,-13.7 L10.4,-8.4 Q11.15,-7.6 11.15,-6.6 V9.8 Q11.15,11.8 9.15,11.8 H-9.3 Q-11.3,11.8 -11.3,9.8 V-12.45 Q-11.3,-14.45 -9.3,-14.45 Z M4.1,-14.2 V-8.5 Q4.1,-7.5 5.1,-7.5 H10.9" fill="none" stroke="#666" stroke-width="1.75" stroke-linejoin="round"/><path d="M-8.05,-0.5 H-4.1 M-8.05,3.05 H-4.1 M-8.05,6.5 H-4.1" stroke="#666" stroke-width="1.35" stroke-linecap="round"/><path d="M1.8,4.2 V-0.84 A4.3,4.3 0 1 0 6.72,4.2 Z" fill="#666"/><path d="M3.55,1.9 V-3.2 A5.2,5.2 0 0 1 8.75,1.9 Z" fill="#666"/></svg></td>
<td><svg class="ic" width="40" height="40" viewBox="-20.0 -20.0 40 40"><path d="M-9.3,-14.45 H3.6 Q4.6,-14.45 5.3,-13.7 L10.4,-8.4 Q11.15,-7.6 11.15,-6.6 V9.8 Q11.15,11.8 9.15,11.8 H-9.3 Q-11.3,11.8 -11.3,9.8 V-12.45 Q-11.3,-14.45 -9.3,-14.45 Z M4.1,-14.2 V-8.5 Q4.1,-7.5 5.1,-7.5 H10.9" fill="none" stroke="#666" stroke-width="1.75" stroke-linejoin="round"/><path d="M-8.05,-0.5 H-4.1 M-8.05,3.05 H-4.1 M-8.05,6.5 H-4.1" stroke="#666" stroke-width="1.35" stroke-linecap="round"/><path d="M1.8,4.2 V-0.84 A4.3,4.3 0 1 0 6.72,4.2 Z" fill="#666"/><path d="M3.55,1.9 V-3.2 A5.2,5.2 0 0 1 8.75,1.9 Z" fill="#666"/></svg></td>
<td><svg class="ic" width="40" height="40" viewBox="-20.0 -20.0 40 40"><path d="M-9.3,-14.45 H3.6 Q4.6,-14.45 5.3,-13.7 L10.4,-8.4 Q11.15,-7.6 11.15,-6.6 V9.8 Q11.15,11.8 9.15,11.8 H-9.3 Q-11.3,11.8 -11.3,9.8 V-12.45 Q-11.3,-14.45 -9.3,-14.45 Z M4.1,-14.2 V-8.5 Q4.1,-7.5 5.1,-7.5 H10.9" fill="none" stroke="#666" stroke-width="1.75" stroke-linejoin="round"/><path d="M-8.05,-0.5 H-4.1 M-8.05,3.05 H-4.1 M-8.05,6.5 H-4.1" stroke="#666" stroke-width="1.35" stroke-linecap="round"/><path d="M1.8,4.2 V-0.84 A4.3,4.3 0 1 0 6.72,4.2 Z" fill="#666"/><path d="M3.55,1.9 V-3.2 A5.2,5.2 0 0 1 8.75,1.9 Z" fill="#666"/></svg></td>
<td><svg class="ic" width="40" height="40" viewBox="-20.0 -20.0 40 40"><path d="M-9.3,-14.45 H3.6 Q4.6,-14.45 5.3,-13.7 L10.4,-8.4 Q11.15,-7.6 11.15,-6.6 V9.8 Q11.15,11.8 9.15,11.8 H-9.3 Q-11.3,11.8 -11.3,9.8 V-12.45 Q-11.3,-14.45 -9.3,-14.45 Z M4.1,-14.2 V-8.5 Q4.1,-7.5 5.1,-7.5 H10.9" fill="none" stroke="#666" stroke-width="1.75" stroke-linejoin="round"/><path d="M-8.05,-0.5 H-4.1 M-8.05,3.05 H-4.1 M-8.05,6.5 H-4.1" stroke="#666" stroke-width="1.35" stroke-linecap="round"/><path d="M1.8,4.2 V-0.84 A4.3,4.3 0 1 0 6.72,4.2 Z" fill="#666"/><path d="M3.55,1.9 V-3.2 A5.2,5.2 0 0 1 8.75,1.9 Z" fill="#666"/></svg></td>
<td></td>
<td><svg class="ic" width="40" height="40" viewBox="-20.0 -20.0 40 40"><path d="M-9.3,-14.45 H3.6 Q4.6,-14.45 5.3,-13.7 L10.4,-8.4 Q11.15,-7.6 11.15,-6.6 V9.8 Q11.15,11.8 9.15,11.8 H-9.3 Q-11.3,11.8 -11.3,9.8 V-12.45 Q-11.3,-14.45 -9.3,-14.45 Z M4.1,-14.2 V-8.5 Q4.1,-7.5 5.1,-7.5 H10.9" fill="none" stroke="#666" stroke-width="1.75" stroke-linejoin="round"/><path d="M-8.05,-0.5 H-4.1 M-8.05,3.05 H-4.1 M-8.05,6.5 H-4.1" stroke="#666" stroke-width="1.35" stroke-linecap="round"/><path d="M1.8,4.2 V-0.84 A4.3,4.3 0 1 0 6.72,4.2 Z" fill="#666"/><path d="M3.55,1.9 V-3.2 A5.2,5.2 0 0 1 8.75,1.9 Z" fill="#666"/></svg></td>
<td><svg class="ic" width="40" height="40" viewBox="-20.0 -20.0 40 40"><path d="M-9.3,-14.45 H3.6 Q4.6,-14.45 5.3,-13.7 L10.4,-8.4 Q11.15,-7.6 11.15,-6.6 V9.8 Q11.15,11.8 9.15,11.8 H-9.3 Q-11.3,11.8 -11.3,9.8 V-12.45 Q-11.3,-14.45 -9.3,-14.45 Z M4.1,-14.2 V-8.5 Q4.1,-7.5 5.1,-7.5 H10.9" fill="none" stroke="#666" stroke-width="1.75" stroke-linejoin="round"/><path d="M-8.05,-0.5 H-4.1 M-8.05,3.05 H-4.1 M-8.05,6.5 H-4.1" stroke="#666" stroke-width="1.35" stroke-linecap="round"/><path d="M1.8,4.2 V-0.84 A4.3,4.3 0 1 0 6.72,4.2 Z" fill="#666"/><path d="M3.55,1.9 V-3.2 A5.2,5.2 0 0 1 8.75,1.9 Z" fill="#666"/></svg></td>
<td></td>
<td></td>
<td><svg class="ic" width="40" height="40" viewBox="-20.0 -20.0 40 40"><path d="M-9.3,-14.45 H3.6 Q4.6,-14.45 5.3,-13.7 L10.4,-8.4 Q11.15,-7.6 11.15,-6.6 V9.8 Q11.15,11.8 9.15,11.8 H-9.3 Q-11.3,11.8 -11.3,9.8 V-12.45 Q-11.3,-14.45 -9.3,-14.45 Z M4.1,-14.2 V-8.5 Q4.1,-7.5 5.1,-7.5 H10.9" fill="none" stroke="#666" stroke-width="1.75" stroke-linejoin="round"/><path d="M-8.05,-0.5 H-4.1 M-8.05,3.05 H-4.1 M-8.05,6.5 H-4.1" stroke="#666" stroke-width="1.35" stroke-linecap="round"/><path d="M1.8,4.2 V-0.84 A4.3,4.3 0 1 0 6.72,4.2 Z" fill="#666"/><path d="M3.55,1.9 V-3.2 A5.2,5.2 0 0 1 8.75,1.9 Z" fill="#666"/></svg></td>
<td><svg class="ic" width="40" height="40" viewBox="-20.0 -20.0 40 40"><path d="M-9.3,-14.45 H3.6 Q4.6,-14.45 5.3,-13.7 L10.4,-8.4 Q11.15,-7.6 11.15,-6.6 V9.8 Q11.15,11.8 9.15,11.8 H-9.3 Q-11.3,11.8 -11.3,9.8 V-12.45 Q-11.3,-14.45 -9.3,-14.45 Z M4.1,-14.2 V-8.5 Q4.1,-7.5 5.1,-7.5 H10.9" fill="none" stroke="#666" stroke-width="1.75" stroke-linejoin="round"/><path d="M-8.05,-0.5 H-4.1 M-8.05,3.05 H-4.1 M-8.05,6.5 H-4.1" stroke="#666" stroke-width="1.35" stroke-linecap="round"/><path d="M1.8,4.2 V-0.84 A4.3,4.3 0 1 0 6.72,4.2 Z" fill="#666"/><path d="M3.55,1.9 V-3.2 A5.2,5.2 0 0 1 8.75,1.9 Z" fill="#666"/></svg></td>
<td></td>
<td></td>
<td><svg class="ic" width="40" height="40" viewBox="-20.0 -20.0 40 40"><path d="M-9.3,-14.45 H3.6 Q4.6,-14.45 5.3,-13.7 L10.4,-8.4 Q11.15,-7.6 11.15,-6.6 V9.8 Q11.15,11.8 9.15,11.8 H-9.3 Q-11.3,11.8 -11.3,9.8 V-12.45 Q-11.3,-14.45 -9.3,-14.45 Z M4.1,-14.2 V-8.5 Q4.1,-7.5 5.1,-7.5 H10.9" fill="none" stroke="#666" stroke-width="1.75" stroke-linejoin="round"/><path d="M-8.05,-0.5 H-4.1 M-8.05,3.05 H-4.1 M-8.05,6.5 H-4.1" stroke="#666" stroke-width="1.35" stroke-linecap="round"/><path d="M1.8,4.2 V-0.84 A4.3,4.3 0 1 0 6.72,4.2 Z" fill="#666"/><path d="M3.55,1.9 V-3.2 A5.2,5.2 0 0 1 8.75,1.9 Z" fill="#666"/></svg></td>
<td><svg class="ic" width="40" height="40" viewBox="-20.0 -20.0 40 40"><path d="M-9.3,-14.45 H3.6 Q4.6,-14.45 5.3,-13.7 L10.4,-8.4 Q11.15,-7.6 11.15,-6.6 V9.8 Q11.15,11.8 9.15,11.8 H-9.3 Q-11.3,11.8 -11.3,9.8 V-12.45 Q-11.3,-14.45 -9.3,-14.45 Z M4.1,-14.2 V-8.5 Q4.1,-7.5 5.1,-7.5 H10.9" fill="none" stroke="#666" stroke-width="1.75" stroke-linejoin="round"/><path d="M-8.05,-0.5 H-4.1 M-8.05,3.05 H-4.1 M-8.05,6.5 H-4.1" stroke="#666" stroke-width="1.35" stroke-linecap="round"/><path d="M1.8,4.2 V-0.84 A4.3,4.3 0 1 0 6.72,4.2 Z" fill="#666"/><path d="M3.55,1.9 V-3.2 A5.2,5.2 0 0 1 8.75,1.9 Z" fill="#666"/></svg></td>
<td></td>
<td><svg class="ic" width="40" height="40" viewBox="-20.0 -20.0 40 40"><path d="M-9.3,-14.45 H3.6 Q4.6,-14.45 5.3,-13.7 L10.4,-8.4 Q11.15,-7.6 11.15,-6.6 V9.8 Q11.15,11.8 9.15,11.8 H-9.3 Q-11.3,11.8 -11.3,9.8 V-12.45 Q-11.3,-14.45 -9.3,-14.45 Z M4.1,-14.2 V-8.5 Q4.1,-7.5 5.1,-7.5 H10.9" fill="none" stroke="#666" stroke-width="1.75" stroke-linejoin="round"/><path d="M-8.05,-0.5 H-4.1 M-8.05,3.05 H-4.1 M-8.05,6.5 H-4.1" stroke="#666" stroke-width="1.35" stroke-linecap="round"/><path d="M1.8,4.2 V-0.84 A4.3,4.3 0 1 0 6.72,4.2 Z" fill="#666"/><path d="M3.55,1.9 V-3.2 A5.2,5.2 0 0 1 8.75,1.9 Z" fill="#666"/></svg></td>
<td></td>
<td></td>
<td></td>
<td></td>
<td></td>
<td></td>
<td></td>
<td></td>
<td></td>
<td></td>
<td><svg class="ic" width="40" height="40" viewBox="-20.0 -20.0 40 40"><path d="M-9.3,-14.45 H3.6 Q4.6,-14.45 5.3,-13.7 L10.4,-8.4 Q11.15,-7.6 11.15,-6.6 V9.8 Q11.15,11.8 9.15,11.8 H-9.3 Q-11.3,11.8 -11.3,9.8 V-12.45 Q-11.3,-14.45 -9.3,-14.45 Z M4.1,-14.2 V-8.5 Q4.1,-7.5 5.1,-7.5 H10.9" fill="none" stroke="#666" stroke-width="1.75" stroke-linejoin="round"/><path d="M-8.05,-0.5 H-4.1 M-8.05,3.05 H-4.1 M-8.05,6.5 H-4.1" stroke="#666" stroke-width="1.35" stroke-linecap="round"/><path d="M1.8,4.2 V-0.84 A4.3,4.3 0 1 0 6.72,4.2 Z" fill="#666"/><path d="M3.55,1.9 V-3.2 A5.2,5.2 0 0 1 8.75,1.9 Z" fill="#666"/></svg></td>
<td></td>
<td><svg class="ic" width="40" height="40" viewBox="-20.0 -20.0 40 40"><path d="M-9.3,-14.45 H3.6 Q4.6,-14.45 5.3,-13.7 L10.4,-8.4 Q11.15,-7.6 11.15,-6.6 V9.8 Q11.15,11.8 9.15,11.8 H-9.3 Q-11.3,11.8 -11.3,9.8 V-12.45 Q-11.3,-14.45 -9.3,-14.45 Z M4.1,-14.2 V-8.5 Q4.1,-7.5 5.1,-7.5 H10.9" fill="none" stroke="#666" stroke-width="1.75" stroke-linejoin="round"/><path d="M-8.05,-0.5 H-4.1 M-8.05,3.05 H-4.1 M-8.05,6.5 H-4.1" stroke="#666" stroke-width="1.35" stroke-linecap="round"/><path d="M1.8,4.2 V-0.84 A4.3,4.3 0 1 0 6.72,4.2 Z" fill="#666"/><path d="M3.55,1.9 V-3.2 A5.2,5.2 0 0 1 8.75,1.9 Z" fill="#666"/></svg></td>
<td><svg class="ic" width="40" height="40" viewBox="-20.0 -20.0 40 40"><path d="M-9.3,-14.45 H3.6 Q4.6,-14.45 5.3,-13.7 L10.4,-8.4 Q11.15,-7.6 11.15,-6.6 V9.8 Q11.15,11.8 9.15,11.8 H-9.3 Q-11.3,11.8 -11.3,9.8 V-12.45 Q-11.3,-14.45 -9.3,-14.45 Z M4.1,-14.2 V-8.5 Q4.1,-7.5 5.1,-7.5 H10.9" fill="none" stroke="#666" stroke-width="1.75" stroke-linejoin="round"/><path d="M-8.05,-0.5 H-4.1 M-8.05,3.05 H-4.1 M-8.05,6.5 H-4.1" stroke="#666" stroke-width="1.35" stroke-linecap="round"/><path d="M1.8,4.2 V-0.84 A4.3,4.3 0 1 0 6.72,4.2 Z" fill="#666"/><path d="M3.55,1.9 V-3.2 A5.2,5.2 0 0 1 8.75,1.9 Z" fill="#666"/></svg></td>
<td></td>
<td></td>
<td></td>
<td></td>
<td class="pc">89<i>%</i></td></tr>
</tbody></table>
<div class="foot"></div>
<div class="chart">
<p class="ttl">Summary of attendance in 06/2020</p>
<p class="sub">Click on the graph to show the causes of absence</p>
<svg class="menu" width="44" height="40" viewBox="0 0 44 40"><path d="M8,7 H36 M8,17 H36 M8,27 H36" stroke="#666" stroke-width="6" stroke-linecap="round"/></svg>
<svg class="pie" width="600" height="460" viewBox="0 0 600 460">
<path fill="#4ca250" d="M31.5,209.0 V245.0 A268,190 0 0 0 567.5,245.0 V209.0 Z"/>
<ellipse cx="299.5" cy="209" rx="268" ry="190" fill="#66bb6a"/>
<path fill="#ef5350" d="M299.5,209.0 L299.5,19.0 A268,190 0 0 0 128.7,62.6 Z"/>
</svg>
<div class="leg" style="left:1194.5px"><b style="background:#66bb6a;left:-32.5px"></b>Present</div>
<div class="leg" style="left:1402px;top:767px"><b style="background:#ef5350;left:-37px;top:7px"></b>Absent</div>
</div>
<div class="toast"><b></b></div>
<svg class="overlay" width="2724" height="1644" viewBox="0 0 2724 1644">
<clipPath id="mc0"><circle cx="1293.65" cy="524.9" r="60"/></clipPath>
<g clip-path="url(#mc0)">
<rect x="1231.65" y="462.9" width="124" height="124" fill="#fcfcfc"/>
<rect x="1237.90" y="462.9" width="4" height="124" fill="#ddd"/><rect x="1341.90" y="462.9" width="4" height="124" fill="#ddd"/>
<text x="1293.05" y="538.70" text-anchor="middle" font-family="Liberation Sans, sans-serif" font-size="38.5" fill="#2a2a2a" stroke="#2a2a2a" stroke-width="1.2" textLength="52.5" lengthAdjust="spacingAndGlyphs">10'</text>
</g>
<circle cx="1293.65" cy="524.9" r="59.7" fill="none" stroke="#707070" stroke-width="2.3"/>
<clipPath id="mc1"><circle cx="2072" cy="524.8" r="60"/></clipPath>
<g clip-path="url(#mc1)">
<rect x="2010" y="462.79999999999995" width="124" height="124" fill="#fcfcfc"/>
<rect x="2020.00" y="462.79999999999995" width="4" height="124" fill="#ddd"/><rect x="2124.00" y="462.79999999999995" width="4" height="124" fill="#ddd"/>
<circle cx="2073.9" cy="522.5999999999999" r="24.5" fill="none" stroke="#666" stroke-width="6.8"/><circle cx="2074.2" cy="522.5999999999999" r="10.4" fill="#666"/>
</g>
<circle cx="2072" cy="524.8" r="59.7" fill="none" stroke="#707070" stroke-width="2.3"/>
<clipPath id="mc2"><circle cx="2281" cy="524.8" r="60"/></clipPath>
<g clip-path="url(#mc2)">
<rect x="2219" y="462.79999999999995" width="124" height="124" fill="#fcfcfc"/>
<rect x="2226.90" y="462.79999999999995" width="4" height="124" fill="#ddd"/><rect x="2330.90" y="462.79999999999995" width="4" height="124" fill="#ddd"/>
<g transform="translate(2280.9,525.1999999999999) scale(2)"><path d="M0,-14 L12.95,11.3 L-12.95,11.3 Z" fill="#f44336" stroke="#f44336" stroke-width="2.6" stroke-linejoin="round"/><rect x="-2" y="-5" width="4" height="9.2" rx="1.9" fill="#fff"/><circle cx="0" cy="7.4" r="2" fill="#fff"/></g>
</g>
<circle cx="2281" cy="524.8" r="59.7" fill="none" stroke="#707070" stroke-width="2.3"/>
<polygon fill="#ff2600" points="1263.7,576.4 1213.9,600.4 1229.5,612.3 1196.9,645.7 1203.7,652.9 1237.4,619.0 1253.3,630.7"/>
<polygon fill="#ff2600" points="2034.8,589.3 1985.0,613.3 2000.6,625.2 1968.0,658.6 1974.8,665.8 2008.5,631.9 2024.4,643.6"/>
<polygon fill="#ff2600" points="2246.7,589.5 2196.9,613.5 2212.5,625.4 2179.9,658.8 2186.7,666.0 2220.4,632.1 2236.3,643.8"/>
</svg>
</div><div class="gutter"></div>
</body></html>
